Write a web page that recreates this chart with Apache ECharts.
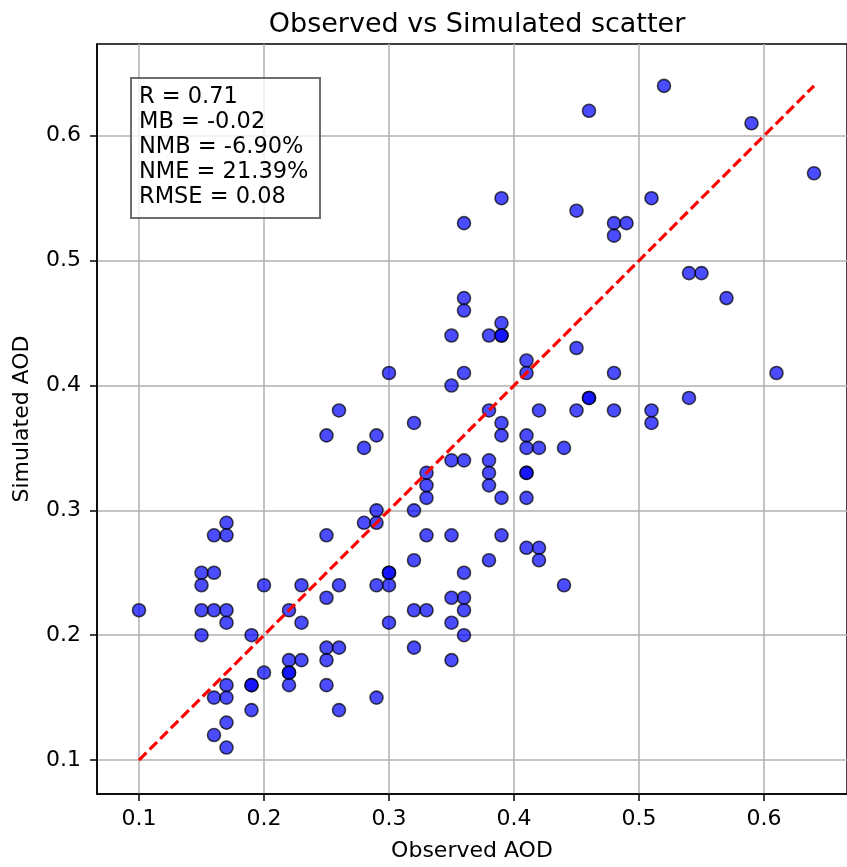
<!DOCTYPE html>
<html><head><meta charset="utf-8">
<script src="https://cdn.jsdelivr.net/npm/echarts@6/dist/echarts.min.js"></script>
<style>html,body{margin:0;padding:0;background:#fff}#c{width:847px;height:867px}</style>
</head><body><div id="c"></div>
<script>
const observed = [
0.52,0.46,0.59,0.64,0.39,0.51,0.45,0.36,0.48,0.49,
0.48,0.54,0.55,0.57,0.36,0.36,0.39,0.35,0.38,0.39,
0.39,0.45,0.41,0.41,0.36,0.30,0.48,0.61,0.35,0.46,
0.46,0.54,0.26,0.38,0.42,0.45,0.48,0.51,0.32,0.39,
0.51,0.25,0.29,0.39,0.41,0.28,0.41,0.42,0.44,0.35,
0.36,0.38,0.33,0.38,0.41,0.41,0.33,0.38,0.33,0.39,
0.41,0.29,0.32,0.17,0.28,0.29,0.16,0.17,0.25,0.33,
0.35,0.39,0.41,0.42,0.32,0.38,0.42,0.15,0.16,0.30,
0.30,0.36,0.15,0.20,0.23,0.26,0.29,0.30,0.44,0.25,
0.35,0.36,0.10,0.15,0.16,0.17,0.22,0.32,0.33,0.36,
0.17,0.23,0.30,0.35,0.15,0.19,0.36,0.25,0.26,0.32,
0.22,0.23,0.25,0.35,0.20,0.22,0.22,0.17,0.19,0.19,
0.22,0.25,0.16,0.17,0.29,0.19,0.26,0.17,0.16,0.17
];
const simulated = [
0.64,0.62,0.61,0.57,0.55,0.55,0.54,0.53,0.53,0.53,
0.52,0.49,0.49,0.47,0.47,0.46,0.45,0.44,0.44,0.44,
0.44,0.43,0.42,0.41,0.41,0.41,0.41,0.41,0.40,0.39,
0.39,0.39,0.38,0.38,0.38,0.38,0.38,0.38,0.37,0.37,
0.37,0.36,0.36,0.36,0.36,0.35,0.35,0.35,0.35,0.34,
0.34,0.34,0.33,0.33,0.33,0.33,0.32,0.32,0.31,0.31,
0.31,0.30,0.30,0.29,0.29,0.29,0.28,0.28,0.28,0.28,
0.28,0.28,0.27,0.27,0.26,0.26,0.26,0.25,0.25,0.25,
0.25,0.25,0.24,0.24,0.24,0.24,0.24,0.24,0.24,0.23,
0.23,0.23,0.22,0.22,0.22,0.22,0.22,0.22,0.22,0.22,
0.21,0.21,0.21,0.21,0.20,0.20,0.20,0.19,0.19,0.19,
0.18,0.18,0.18,0.18,0.17,0.17,0.17,0.16,0.16,0.16,
0.16,0.16,0.15,0.15,0.15,0.14,0.14,0.13,0.12,0.11
];
const xTicks = [0.1, 0.2, 0.3, 0.4, 0.5, 0.6];
const yTicks = [0.1, 0.2, 0.3, 0.4, 0.5, 0.6];
const oneToOneX = [0.1, 0.64];
const oneToOneY = [0.1, 0.64];
const statsLines = ['R = 0.71', 'MB = -0.02', 'NMB = -6.90%', 'NME = 21.39%', 'RMSE = 0.08'];
const titleText = 'Observed vs Simulated scatter';
const xName = 'Observed AOD';
const yName = 'Simulated AOD';

const FONT = '"DejaVu Sans", sans-serif';
const scatterData = observed.map((v, i) => [v, simulated[i]]);
const lineData = oneToOneX.map((v, i) => [v, oneToOneY[i]]);

const chart = echarts.init(document.getElementById('c'), null, {renderer: 'canvas'});
chart.setOption({
  animation: false,
  backgroundColor: '#ffffff',
  title: {
    text: titleText, left: 472, textAlign: 'center', top: 6,
    textStyle: {fontFamily: FONT, fontSize: 27, fontWeight: 'normal', color: '#000'}
  },
  grid: {left: 97, top: 44, width: 750, height: 752, show: true, borderColor: '#000', borderWidth: 1.5, backgroundColor: 'transparent'},
  xAxis: {
    type: 'value', min: 0.0664, max: 0.6664,
    name: xName, nameLocation: 'middle', nameGap: 46,
    nameTextStyle: {fontFamily: FONT, fontSize: 22, color: '#000'},
    axisLine: {show: true, onZero: false, lineStyle: {color: '#000', width: 1.5}},
    axisTick: {show: true, inside: false, length: 7, customValues: xTicks, lineStyle: {color: '#000', width: 1.5}},
    axisLabel: {customValues: xTicks, margin: 14, fontFamily: FONT, fontSize: 22, color: '#000', formatter: v => v.toFixed(1)},
    splitLine: {show: true, lineStyle: {color: '#b0b0b0', width: 1.5}}
  },
  yAxis: {
    type: 'value', min: 0.0728, max: 0.6735,
    name: yName, nameLocation: 'middle', nameGap: 64, nameRotate: 90,
    nameTextStyle: {fontFamily: FONT, fontSize: 22, color: '#000'},
    axisLine: {show: true, onZero: false, lineStyle: {color: '#000', width: 1.5}},
    axisTick: {show: true, inside: false, length: 7, customValues: yTicks, lineStyle: {color: '#000', width: 1.5}},
    axisLabel: {customValues: yTicks, margin: 16, fontFamily: FONT, fontSize: 22, color: '#000', formatter: v => v.toFixed(1)},
    splitLine: {show: true, lineStyle: {color: '#b0b0b0', width: 1.5}}
  },
  series: [
    {
      type: 'scatter', data: scatterData, symbol: 'circle', symbolSize: 13, z: 2,
      itemStyle: {color: '#0000ff', borderColor: '#000000', borderWidth: 1.6, opacity: 0.7}
    },
    {
      type: 'line', data: lineData, symbol: 'none', z: 3,
      lineStyle: {color: '#ff0000', width: 3.2, type: [10.5, 4.5]}
    }
  ],
  graphic: [
    {
      type: 'rect', left: 130, top: 77, z: 10,
      shape: {width: 189, height: 140},
      style: {fill: 'rgba(255,255,255,0.8)', stroke: '#6e6e6e', lineWidth: 2}
    },
    {
      type: 'text', left: 139, top: 85, z: 11,
      style: {text: statsLines.join('\n'), font: '22.5px ' + FONT, lineHeight: 25, fill: '#000'}
    }
  ]
});
</script>
</body></html>
